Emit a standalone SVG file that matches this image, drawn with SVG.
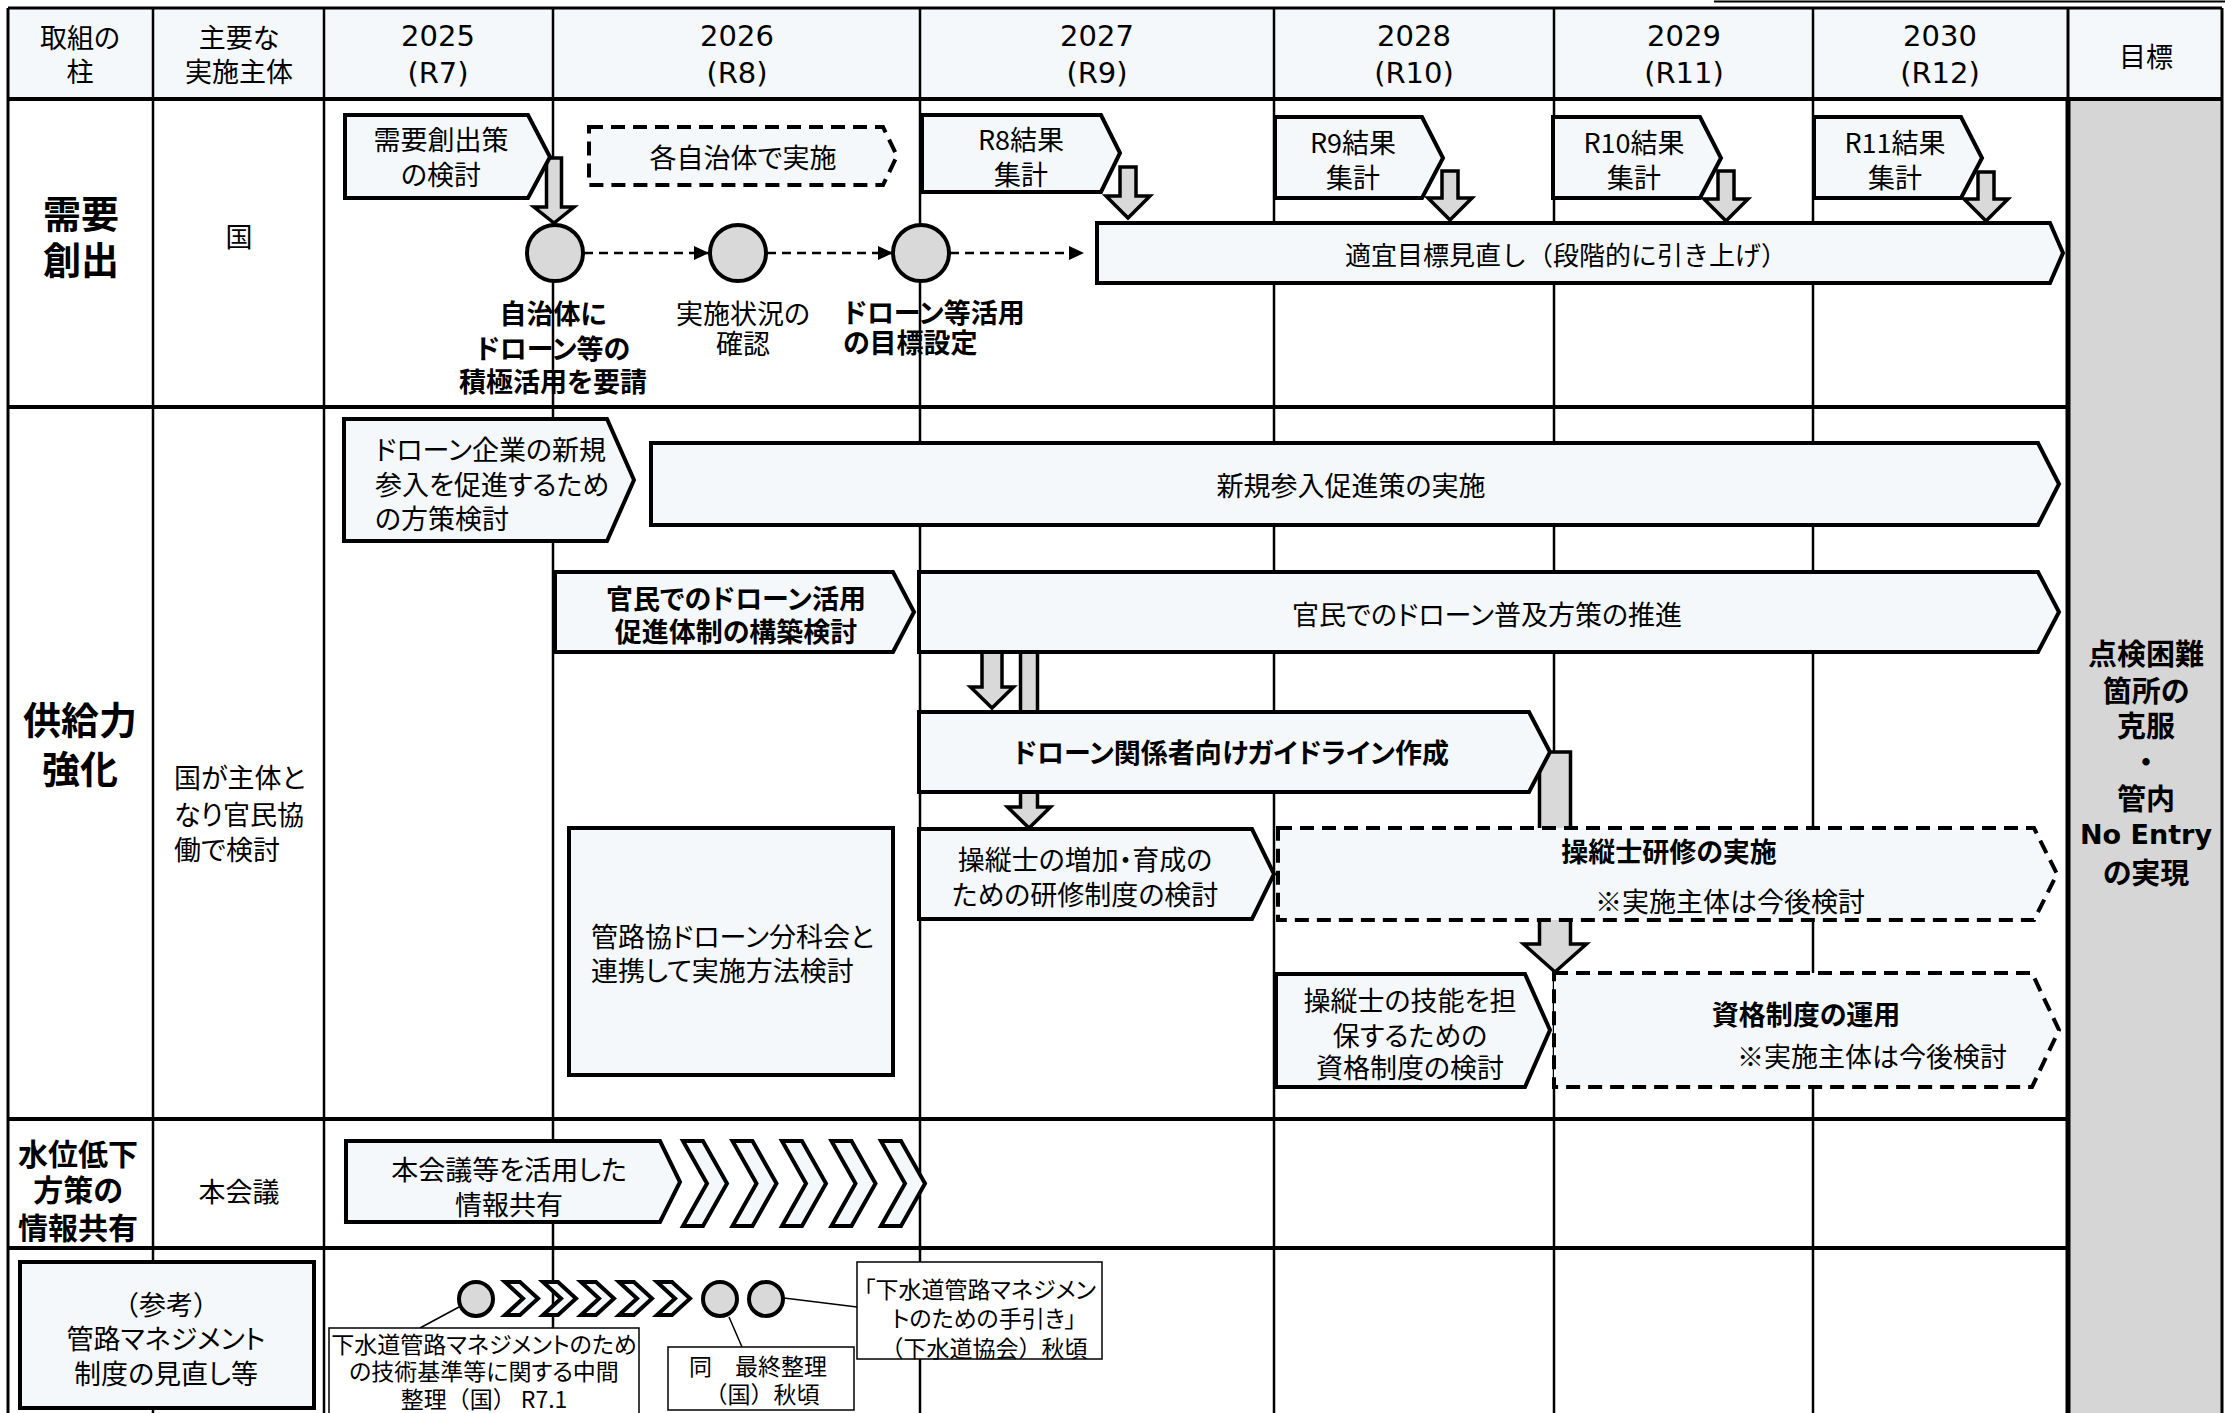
<svg xmlns="http://www.w3.org/2000/svg" width="2225" height="1413" viewBox="0 0 2225 1413">
<defs>
<style>
.t{font-family:"Noto Sans CJK JP","Noto Sans",sans-serif;font-size:27px;fill:#000;text-anchor:middle;dominant-baseline:central;font-feature-settings:"palt" 1;}
.np{font-feature-settings:normal;}
.b{font-weight:bold;}
.l{text-anchor:start;}
.yr{font-family:"DejaVu Sans","Noto Sans CJK JP",sans-serif;font-size:29px;fill:#000;text-anchor:middle;dominant-baseline:central;}
.big{font-size:38px;font-weight:bold;}
.sm{font-size:23px;}
.box{fill:#f4f8fa;stroke:#000;stroke-width:4;stroke-linejoin:miter;}
.dash{fill:#f4f8fa;stroke:#000;stroke-width:4;stroke-dasharray:14 8;}
.circ{fill:#d9d9d9;stroke:#000;stroke-width:4;}
.arr{fill:#d9d9d9;stroke:#000;stroke-width:3.5;stroke-linejoin:miter;}
.dl{fill:none;stroke:#000;stroke-width:2.5;stroke-dasharray:9 6;}
.lead{fill:none;stroke:#000;stroke-width:1.5;}
.call{fill:#fff;stroke:#000;stroke-width:1.5;}
.grid{stroke:#000;fill:none;}
</style>
<marker id="ah" viewBox="0 0 15 14" refX="15" refY="7" markerWidth="15" markerHeight="14" markerUnits="userSpaceOnUse" orient="auto">
<path d="M0,0 L15,7 L0,14 Z" fill="#000"/>
</marker>
</defs>
<rect width="2225" height="1413" fill="#fff"/>
<g id="table">
<rect x="8" y="8" width="2214" height="91" fill="#f4f8fa"/>
<rect x="2068" y="101" width="154" height="1312" fill="#d6d6d6"/>
<line class="grid" x1="1714" y1="1.5" x2="2225" y2="1.5" stroke-width="2"/>
<line class="grid" x1="8" y1="8" x2="2222" y2="8" stroke-width="3"/>
<line class="grid" x1="8" y1="99" x2="2222" y2="99" stroke-width="4"/>
<line class="grid" x1="8" y1="407" x2="2068" y2="407" stroke-width="4"/>
<line class="grid" x1="8" y1="1119" x2="2068" y2="1119" stroke-width="4"/>
<line class="grid" x1="8" y1="1248" x2="2068" y2="1248" stroke-width="4"/>
<line class="grid" x1="8" y1="8" x2="8" y2="1413" stroke-width="3"/>
<line class="grid" x1="153" y1="8" x2="153" y2="1413" stroke-width="2.5"/>
<line class="grid" x1="324" y1="8" x2="324" y2="1413" stroke-width="2.5"/>
<line class="grid" x1="553" y1="8" x2="553" y2="1413" stroke-width="2.5"/>
<line class="grid" x1="920" y1="8" x2="920" y2="1413" stroke-width="2.5"/>
<line class="grid" x1="1274" y1="8" x2="1274" y2="1413" stroke-width="2.5"/>
<line class="grid" x1="1554" y1="8" x2="1554" y2="1413" stroke-width="2.5"/>
<line class="grid" x1="1813" y1="8" x2="1813" y2="1413" stroke-width="2.5"/>
<line class="grid" x1="2068" y1="8" x2="2068" y2="101" stroke-width="3"/>
<line class="grid" x1="2068" y1="99" x2="2068" y2="1413" stroke-width="5"/>
<line class="grid" x1="2222" y1="8" x2="2222" y2="1413" stroke-width="3"/>
<text class="t" x="80" y="36">取組の</text><text class="t" x="80" y="70">柱</text>
<text class="t" x="239" y="36">主要な</text><text class="t" x="239" y="70">実施主体</text>
<text class="yr" x="438" y="36">2025</text><text class="yr" x="438" y="73">(R7)</text>
<text class="yr" x="737" y="36">2026</text><text class="yr" x="737" y="73">(R8)</text>
<text class="yr" x="1097" y="36">2027</text><text class="yr" x="1097" y="73">(R9)</text>
<text class="yr" x="1414" y="36">2028</text><text class="yr" x="1414" y="73">(R10)</text>
<text class="yr" x="1684" y="36">2029</text><text class="yr" x="1684" y="73">(R11)</text>
<text class="yr" x="1940" y="36">2030</text><text class="yr" x="1940" y="73">(R12)</text>
<text class="t" x="2146" y="55">目標</text>
<text class="t big" x="81" y="211">需要</text><text class="t big" x="81" y="257">創出</text>
<text class="t" x="239" y="235">国</text>
<text class="t big" x="80" y="717">供給力</text><text class="t big" x="80" y="766">強化</text>
<text class="t l" x="174" y="776">国が主体と</text><text class="t l" x="174" y="813">なり官民協</text><text class="t l" x="174" y="848">働で検討</text>
<text class="t b" x="78" y="1152" style="font-size:30px">水位低下</text><text class="t b" x="78" y="1188" style="font-size:30px">方策の</text><text class="t b" x="78" y="1226" style="font-size:30px">情報共有</text>
<text class="t" x="239" y="1190">本会議</text>
</g>
<g id="connectors">
<path class="arr" d="M546.5,158 L561.5,158 L561.5,207 L574,207 L554,223 L534,207 L546.5,207 Z"/>
<path class="arr" d="M1120,167 L1136,167 L1136,196 L1150,196 L1128,218 L1106,196 L1120,196 Z"/>
<path class="arr" d="M1442,171 L1458,171 L1458,198 L1472,198 L1450,220 L1428,198 L1442,198 Z"/>
<path class="arr" d="M1718,171 L1734,171 L1734,199 L1748,199 L1726,221 L1704,199 L1718,199 Z"/>
<path class="arr" d="M1978,172 L1994,172 L1994,199 L2008,199 L1986,221 L1964,199 L1978,199 Z"/>
<path class="dl" d="M584,253 L709,253" marker-end="url(#ah)"/>
<path class="dl" d="M767,253 L893,253" marker-end="url(#ah)"/>
<path class="dl" d="M950,253 L1084,253" marker-end="url(#ah)"/>
<path class="arr" d="M982,652 L1002,652 L1002,687 L1013.5,687 L992,708 L970.5,687 L982,687 Z"/>
<path class="arr" d="M1020.5,652 L1037.5,652 L1037.5,807 L1050.5,807 L1029,828 L1007.5,807 L1020.5,807 Z"/>
<path class="arr" d="M1539.5,752 L1570.5,752 L1570.5,944 L1586.5,944 L1555,972 L1523.5,944 L1539.5,944 Z"/>
<path class="lead" d="M459,1307 L420,1328"/>
<path class="lead" d="M729,1317 L742,1347"/>
<path class="lead" d="M784,1298 L857,1307"/>
</g>
<g id="n-juyou-kento"><path class="box" d="M345,115 L528,115 L550,157 L528,198 L345,198 Z"/><text class="t" x="441" y="138">需要創出策</text><text class="t" x="441" y="173">の検討</text></g>
<g id="n-kaku-jichitai"><path class="dash" d="M589,127 L883,127 L897,156 L883,185 L589,185 Z"/><text class="t" x="743" y="156">各自治体で実施</text></g>
<g id="n-r8"><path class="box" d="M922,115 L1101,115 L1120,153 L1101,192 L922,192 Z"/><text class="t" x="1021" y="138">R8結果</text><text class="t" x="1021" y="173">集計</text></g>
<g id="n-r9"><path class="box" d="M1275,117 L1422,117 L1443,158 L1422,198 L1275,198 Z"/><text class="t" x="1353" y="141">R9結果</text><text class="t" x="1353" y="176">集計</text></g>
<g id="n-r10"><path class="box" d="M1553,117 L1700,117 L1721,158 L1700,198 L1553,198 Z"/><text class="t" x="1634" y="141">R10結果</text><text class="t" x="1634" y="176">集計</text></g>
<g id="n-r11"><path class="box" d="M1814,117 L1961,117 L1982,158 L1961,198 L1814,198 Z"/><text class="t" x="1895" y="141">R11結果</text><text class="t" x="1895" y="176">集計</text></g>
<g id="n-tekigi"><path class="box" d="M1097,223 L2050,223 L2063,253 L2050,283 L1097,283 Z"/><text class="t np" x="1566" y="253" style="font-size:26px">適宜目標見直し（段階的に引き上げ）</text></g>
<g id="n-c1"><ellipse class="circ" cx="555" cy="253" rx="28" ry="28"/><text class="t b" x="553" y="312">自治体に</text><text class="t b" x="553" y="347">ドローン等の</text><text class="t b" x="553" y="380">積極活用を要請</text></g>
<g id="n-c2"><ellipse class="circ" cx="738" cy="253" rx="28" ry="28"/><text class="t" x="743" y="312">実施状況の</text><text class="t" x="743" y="342">確認</text></g>
<g id="n-c3"><ellipse class="circ" cx="921" cy="253" rx="28" ry="28"/><text class="t b l" x="843" y="311">ドローン等活用</text><text class="t b l" x="843" y="341">の目標設定</text></g>
<g id="n-sannyu-kento"><path class="box" d="M344,419 L607,419 L634,480 L607,541 L344,541 Z"/><text class="t l" x="375" y="448">ドローン企業の新規</text><text class="t l" x="375" y="483">参入を促進するため</text><text class="t l" x="375" y="517">の方策検討</text></g>
<g id="n-sannyu-jisshi"><path class="box" d="M651,443 L2038,443 L2059,484 L2038,525 L651,525 Z"/><text class="t" x="1351" y="484">新規参入促進策の実施</text></g>
<g id="n-kanmin-kento"><path class="box" d="M555,572 L893,572 L914,612 L893,652 L555,652 Z"/><text class="t b" x="736" y="597">官民でのドローン活用</text><text class="t b" x="736" y="630">促進体制の構築検討</text></g>
<g id="n-kanmin-suishin"><path class="box" d="M919,572 L2038,572 L2059,612 L2038,652 L919,652 Z"/><text class="t" x="1487" y="613">官民でのドローン普及方策の推進</text></g>
<g id="n-guideline"><path class="box" d="M919,712 L1529,712 L1550,752 L1529,792 L919,792 Z"/><text class="t b" x="1231" y="751">ドローン関係者向けガイドライン作成</text></g>
<g id="n-kenshu-kento"><path class="box" d="M919,829 L1252,829 L1274,874 L1252,919 L919,919 Z"/><text class="t" x="1085" y="858">操縦士の増加・育成の</text><text class="t" x="1085" y="893">ための研修制度の検討</text></g>
<g id="n-kenshu-jisshi"><path class="dash" d="M1278,828 L2034,828 L2057,874 L2034,920 L1278,920 Z"/><text class="t b" x="1669" y="850">操縦士研修の実施</text><text class="t" x="1730" y="900">※実施主体は今後検討</text></g>
<g id="n-shikaku-kento"><path class="box" d="M1276,974 L1525,974 L1550,1030 L1525,1087 L1276,1087 Z"/><text class="t" x="1410" y="999">操縦士の技能を担</text><text class="t" x="1410" y="1034">保するための</text><text class="t" x="1410" y="1066">資格制度の検討</text></g>
<g id="n-shikaku-unyo"><path class="dash" d="M1554,973 L2032,973 L2059,1030 L2032,1087 L1554,1087 Z"/><text class="t b" x="1806" y="1013">資格制度の運用</text><text class="t" x="1872" y="1055">※実施主体は今後検討</text></g>
<g id="n-kanrokyo"><rect class="box" x="569" y="828" width="324" height="247" stroke-width="3.5"/><text class="t l" x="591" y="935">管路協ドローン分科会と</text><text class="t l" x="591" y="969">連携して実施方法検討</text></g>
<g id="n-honkaigi"><path class="box" d="M346,1141 L660,1141 L680,1182 L660,1222 L346,1222 Z"/><text class="t" x="509" y="1168">本会議等を活用した</text><text class="t" x="509" y="1203">情報共有</text></g>
<g id="n-chevrons-3">
<path class="box" d="M683,1141 L703,1141 L727,1183.5 L703,1226 L683,1226 L707,1183.5 Z"/>
<path class="box" d="M732.5,1141 L752.5,1141 L776.5,1183.5 L752.5,1226 L732.5,1226 L756.5,1183.5 Z"/>
<path class="box" d="M782,1141 L802,1141 L826,1183.5 L802,1226 L782,1226 L806,1183.5 Z"/>
<path class="box" d="M831.5,1141 L851.5,1141 L875.5,1183.5 L851.5,1226 L831.5,1226 L855.5,1183.5 Z"/>
<path class="box" d="M881,1141 L901,1141 L925,1183.5 L901,1226 L881,1226 L905,1183.5 Z"/>
</g>
<g id="n-sanko"><rect class="box" x="20" y="1262" width="294" height="146"/><text class="t np" x="166" y="1303">（参考）</text><text class="t" x="166" y="1337">管路マネジメント</text><text class="t" x="166" y="1372">制度の見直し等</text></g>
<g id="n-m1"><circle class="circ" cx="476" cy="1299" r="17"/></g>
<g id="n-chevrons-4">
<path class="box" stroke-width="3" d="M505,1282 L520,1282 L538,1298.5 L520,1315 L505,1315 L523,1298.5 Z"/>
<path class="box" stroke-width="3" d="M543,1282 L558,1282 L576,1298.5 L558,1315 L543,1315 L561,1298.5 Z"/>
<path class="box" stroke-width="3" d="M581,1282 L596,1282 L614,1298.5 L596,1315 L581,1315 L599,1298.5 Z"/>
<path class="box" stroke-width="3" d="M619,1282 L634,1282 L652,1298.5 L634,1315 L619,1315 L637,1298.5 Z"/>
<path class="box" stroke-width="3" d="M657,1282 L672,1282 L690,1298.5 L672,1315 L657,1315 L675,1298.5 Z"/>
</g>
<g id="n-m2"><circle class="circ" cx="720" cy="1299" r="17"/></g>
<g id="n-m3"><circle class="circ" cx="766" cy="1299" r="17"/></g>
<g id="n-call1"><rect class="call" x="329" y="1328" width="310" height="95"/><text class="t sm" x="484" y="1343">下水道管路マネジメントのため</text><text class="t sm" x="484" y="1370">の技術基準等に関する中間</text><text class="t sm np" x="484" y="1398">整理（国） R7.1</text></g>
<g id="n-call2"><rect class="call" x="668" y="1347" width="186" height="63"/><text class="t sm np" x="758" y="1365">同　最終整理</text><text class="t sm np" x="762" y="1393">（国）秋頃</text></g>
<g id="n-call3"><rect class="call" x="857" y="1262" width="245" height="97"/><text class="t sm" x="980" y="1288">「下水道管路マネジメン</text><text class="t sm" x="984" y="1317">トのための手引き」</text><text class="t sm np" x="984" y="1347">（下水道協会）秋頃</text></g>
<g id="n-goal">
<text class="t b" x="2146" y="652" style="font-size:29px">点検困難</text>
<text class="t b" x="2146" y="689" style="font-size:29px">箇所の</text>
<text class="t b" x="2146" y="724" style="font-size:29px">克服</text>
<text class="t b" x="2146" y="760" style="font-size:29px">・</text>
<text class="t b" x="2146" y="797" style="font-size:29px">管内</text>
<text class="yr" x="2146" y="834" style="font-weight:bold;font-size:27px">No Entry</text>
<text class="t b" x="2146" y="871" style="font-size:29px">の実現</text>
</g>
</svg>
